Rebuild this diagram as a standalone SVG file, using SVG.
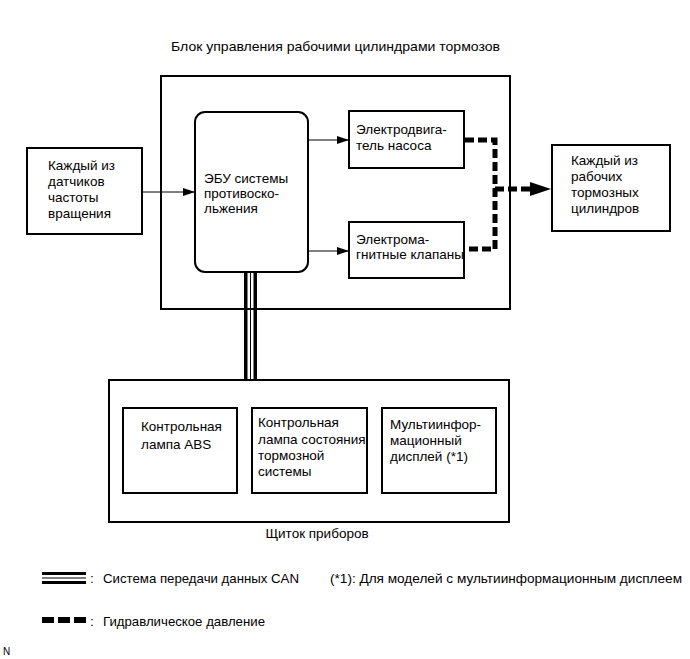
<svg xmlns="http://www.w3.org/2000/svg" width="690" height="659" viewBox="0 0 690 659">
<defs>
<style>
text{font-family:"Liberation Sans",Arial,sans-serif;font-size:13.5px;fill:#000}
.box{fill:#fff;stroke:#000;stroke-width:2}
.thin{fill:none;stroke:#000;stroke-width:1}
.hyd{fill:none;stroke:#000;stroke-width:5;stroke-dasharray:9,4}
.leg{font-size:13.5px}
</style>
<marker id="arr" markerWidth="12" markerHeight="8" refX="12" refY="4" orient="auto" markerUnits="userSpaceOnUse">
<path d="M0,0 L12,4 L0,8 Z" fill="#000"/>
</marker>
</defs>
<rect width="690" height="659" fill="#fff"/>

<g id="title"><text x="171" y="51" textLength="329" lengthAdjust="spacingAndGlyphs">Блок управления рабочими цилиндрами тормозов</text></g>

<g id="outer-block"><rect class="box" x="161" y="76" width="349" height="233"/></g>

<g id="sensors"><rect class="box" x="27" y="148" width="115" height="86"/>
<text x="48" y="170">Каждый из</text><text x="48" y="186">датчиков</text><text x="48" y="202">частоты</text><text x="48" y="218">вращения</text></g>

<g id="ecu"><rect class="box" x="195" y="112" width="113" height="160" rx="10" ry="10"/>
<text x="204" y="183">ЭБУ системы</text><text x="204" y="198">противоско-</text><text x="204" y="213">льжения</text></g>

<g id="pump"><rect class="box" x="349" y="111" width="115" height="57"/>
<text x="356" y="134">Электродвига-</text><text x="356" y="150">тель насоса</text></g>

<g id="valves"><rect class="box" x="349" y="222" width="115" height="56"/>
<text x="356" y="244">Электрома-</text><text x="356" y="259">гнитные клапаны</text></g>

<g id="cylinders"><rect class="box" x="552" y="145" width="118" height="86"/>
<text x="571" y="165">Каждый из</text><text x="571" y="181">рабочих</text><text x="571" y="197">тормозных</text><text x="571" y="213">цилиндров</text></g>

<g id="instrument-panel"><rect class="box" x="109" y="380" width="400" height="142"/>
<text x="317" y="538" text-anchor="middle">Щиток приборов</text></g>

<g id="abs-lamp"><rect class="box" x="123" y="408" width="114" height="85"/>
<text x="141" y="431">Контрольная</text><text x="141" y="449">лампа ABS</text></g>

<g id="brake-lamp"><rect class="box" x="252" y="408" width="115" height="85"/>
<text x="258" y="427">Контрольная</text><text x="258" y="444">лампа состояния</text><text x="258" y="460">тормозной</text><text x="258" y="476">системы</text></g>

<g id="multi-display"><rect class="box" x="382" y="408" width="114" height="85"/>
<text x="390" y="429">Мультиинфор-</text><text x="390" y="445">мационный</text><text x="390" y="461">дисплей (*1)</text></g>

<g id="connectors">
<line class="thin" x1="142" y1="192" x2="195" y2="192" marker-end="url(#arr)"/>
<line class="thin" x1="308" y1="140" x2="349" y2="140" marker-end="url(#arr)"/>
<line class="thin" x1="308" y1="251" x2="349" y2="251" marker-end="url(#arr)"/>
<polyline class="hyd" points="465,140 495,140 495,249 465,249"/>
<line class="hyd" x1="495" y1="189" x2="532" y2="189"/>
<path d="M530,182 L551,189 L530,196 Z" fill="#000"/>
<rect x="244" y="273" width="3.5" height="106" fill="#000"/>
<rect x="250" y="273" width="1" height="106" fill="#000"/>
<rect x="253.5" y="273" width="3.5" height="106" fill="#000"/>
</g>

<g id="legend">
<rect x="42" y="572" width="44" height="3" fill="#000"/>
<rect x="42" y="577.5" width="44" height="1" fill="#000"/>
<rect x="42" y="581" width="44" height="3" fill="#000"/>
<text class="leg" x="90" y="583">:</text>
<text class="leg" x="103" y="583" textLength="196" lengthAdjust="spacingAndGlyphs">Система передачи данных CAN</text>
<text class="leg" x="330" y="583" style="font-size:12.5px" textLength="352" lengthAdjust="spacingAndGlyphs">(*1): Для моделей с мультиинформационным дисплеем</text>
<rect x="42" y="617" width="12" height="6" fill="#000"/>
<rect x="58" y="617" width="12" height="6" fill="#000"/>
<rect x="74" y="617" width="12" height="6" fill="#000"/>
<text class="leg" x="90" y="626">:</text>
<text class="leg" x="103" y="626" textLength="162" lengthAdjust="spacingAndGlyphs">Гидравлическое давление</text>
<text x="3" y="655" style="font-size:10px">N</text>
</g>
</svg>
